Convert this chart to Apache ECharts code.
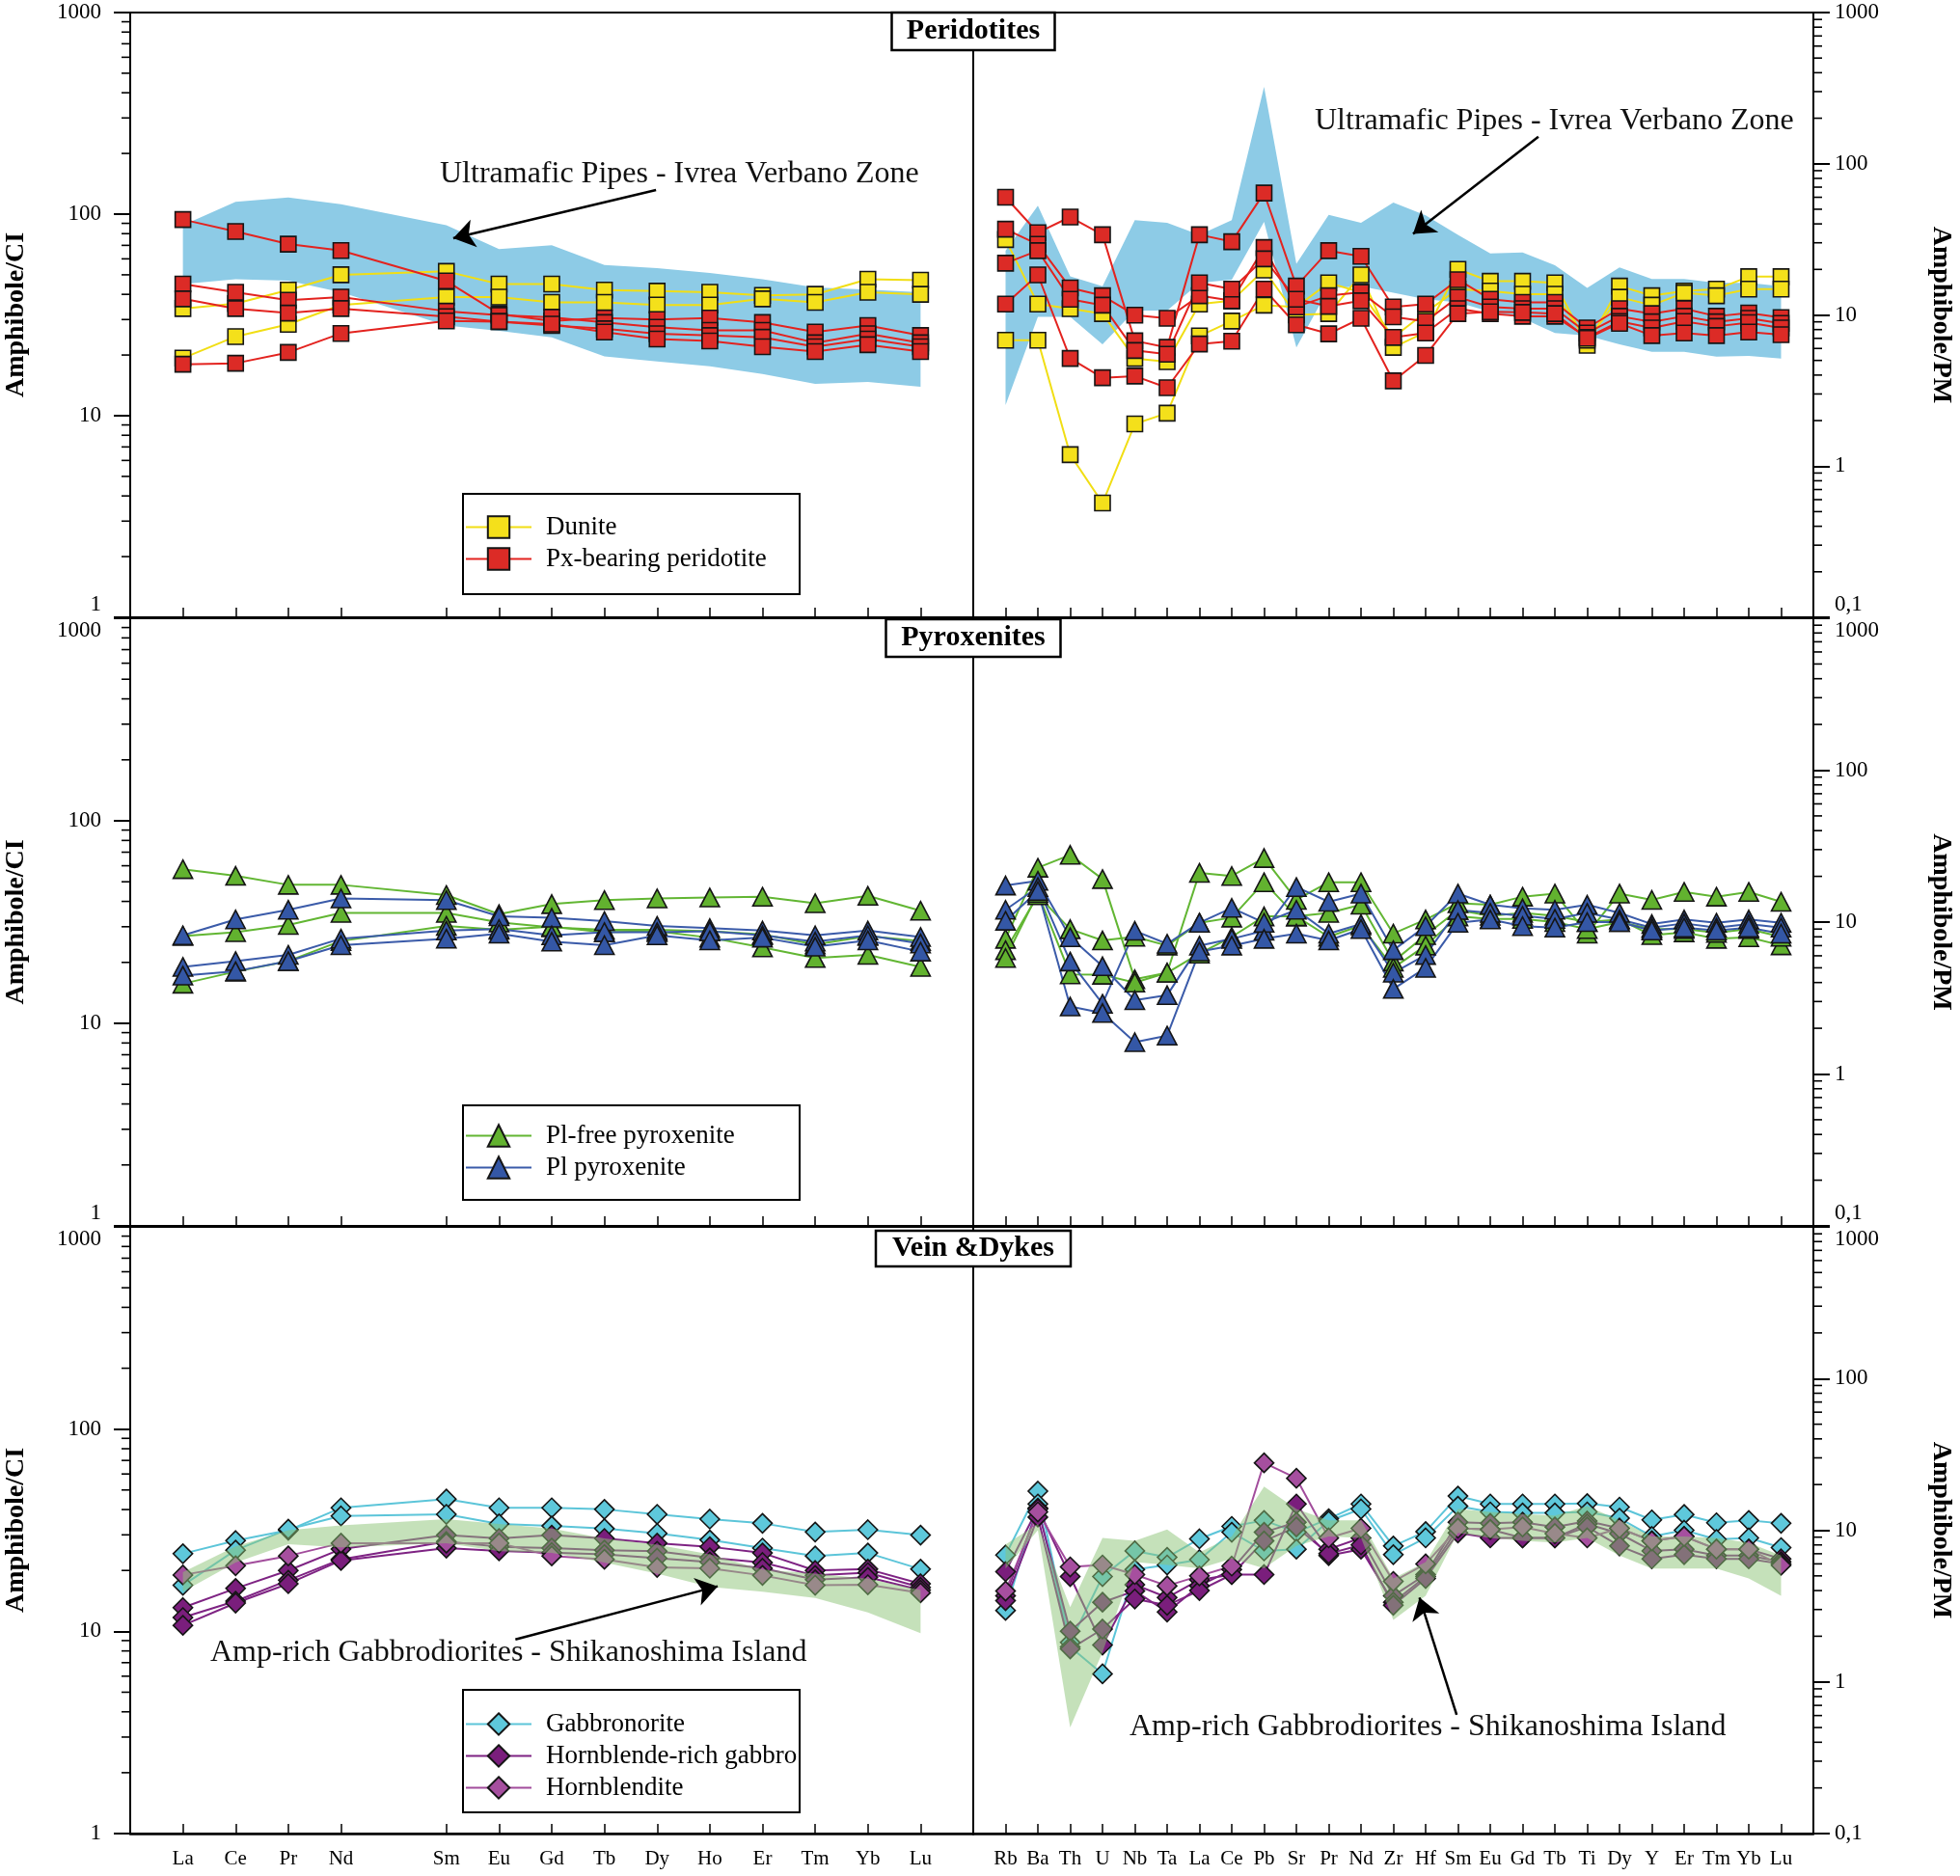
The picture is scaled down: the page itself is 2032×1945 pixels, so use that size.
<!DOCTYPE html>
<html><head><meta charset="utf-8">
<script src="https://cdn.jsdelivr.net/npm/echarts@6/dist/echarts.min.js"></script>
<style>html,body{margin:0;padding:0;background:#fff}#c{width:2032px;height:1945px}</style>
</head><body><div id="c"></div>
<script>
// ---------- categories & tick values ----------
const REE = ['La','Ce','Pr','Nd','Pm','Sm','Eu','Gd','Tb','Dy','Ho','Er','Tm','Yb','Lu'];
const SPIDER = ['Rb','Ba','Th','U','Nb','Ta','La','Ce','Pb','Sr','Pr','Nd','Zr','Hf','Sm','Eu','Gd','Tb','Ti','Dy','Y','Er','Tm','Yb','Lu'];
const CI_MINOR = [2,3,4,5,6,7,8,9,20,30,40,50,60,70,80,90,200,300,400,500,600,700,800,900];
const PM_MINOR = [0.2,0.3,0.4,0.5,0.6,0.7,0.8,0.9,2,3,4,5,6,7,8,9,20,30,40,50,60,70,80,90,200,300,400,500,600,700,800,900];

// ---------- Peridotites (chondrite-normalised REE) ----------
const DUN_REE_1 = [34, 36, 42, 50, null, 52, 45, 45, 42, 41.5, 41, 39.5, 40, 47.5, 47];
const DUN_REE_2 = [19.3, 24.7, 28.4, 35.4, null, 38.8, 38.8, 36.5, 36.5, 35.4, 35.4, 38, 36.5, 41, 40];
const PXP_REE_1 = [94, 82, 71, 66, null, 46.6, 32, 29.5, 30.5, 30, 30.5, 29, 26, 28, 25];
const PXP_REE_2 = [45, 41, 37.4, 38.8, null, 33, 31.5, 30.8, 29, 27.5, 26.5, 26.5, 23, 25.5, 23];
const PXP_REE_3 = [38, 34, 32.3, 34, null, 31, 29.3, 28, 27, 25.5, 25, 24.5, 22, 24, 22];
const PXP_REE_4 = [18, 18.2, 20.6, 25.6, null, 29.5, 29.3, 28.5, 26, 24, 23.5, 22, 20.8, 22.5, 20.8];
const UMP_REE_HI = [88, 115, 121, 112, null, 88, 67, 70, 56, 54, 51, 47.5, 43.3, 42.2, 41];
const UMP_REE_LO = [45, 47.5, 46.7, 41, null, 28, 26.4, 24.5, 19.7, 18.6, 17.6, 16.1, 14.4, 14.7, 13.9];
// ---------- Peridotites (primitive-mantle-normalised) ----------
const DUN_PM_1 = [31.5, 11.8, 11, 10.2, 5.15, 4.9, 11.8, 12.4, 19.8, 10, 10.2, 18.4, 6.1, 7.7, 20, 16.7, 16.7, 16.3, 6.3, 15.5, 13.4, 14.4, 14.8, 17.9, 17.9];
const DUN_PM_2 = [6.8, 6.8, 1.19, 0.57, 1.9, 2.24, 7.26, 9.1, 11.6, 11.3, 16.3, 14.1, 7.1, 10.4, 14.8, 14.4, 13.7, 13.7, 6.8, 13.1, 11.6, 14.0, 13.4, 14.8, 14.8];
const PXP_PM_1 = [60, 35, 44.4, 33.9, 6.74, 6.1, 33.9, 30.5, 64, 15.5, 26.6, 24.4, 11.3, 11.8, 17.1, 12.7, 12.1, 12.1, 8.2, 11, 10.2, 11, 9.8, 10.3, 9.6];
const PXP_PM_2 = [36.9, 29.3, 15.1, 13.4, 9.97, 9.5, 13.4, 12.4, 27.9, 11.3, 13.4, 14.1, 9.7, 9.05, 13.1, 11.3, 11, 11, 7.6, 9.8, 9, 9.8, 9, 9.5, 8.8];
const PXP_PM_3 = [22, 26.6, 12.7, 11.6, 5.82, 5.5, 16.3, 14.8, 23.5, 12.7, 11.4, 12.4, 7.1, 7.6, 11, 10.2, 9.8, 9.8, 7.1, 9.05, 8.2, 9.05, 8.4, 8.9, 8.2];
const PXP_PM_4 = [11.8, 18.4, 5.15, 3.84, 3.94, 3.3, 6.42, 6.7, 14.8, 8.6, 7.5, 9.5, 3.66, 5.4, 10.2, 10.5, 10.4, 10.2, 7.0, 8.8, 7.3, 7.6, 7.3, 7.7, 7.4];
const UMP_PM_HI = [26.6, 52.7, 18, 15.5, 42.3, 40.7, 33.9, 42.3, 323, 21.8, 45.9, 40.7, 55.4, 45.5, 33.9, 25.5, 25.9, 21.3, 15.1, 20.6, 17.3, 17.3, 16.3, 16.3, 15.5];
const UMP_PM_LO = [2.53, 9.7, 9.7, 6.4, 10.7, 10.7, 16.3, 17.1, 41.3, 6.1, 15, 15.5, 14, 12.7, 12.1, 10.5, 9.5, 7.6, 7.3, 6.4, 5.7, 5.7, 5.3, 5.35, 5.15];

// ---------- Pyroxenites ----------
const PLF_REE_1 = [57.7, 53.5, 48.3, 48.3, null, 43, 34.6, 38.8, 40.6, 41.4, 41.8, 42.2, 39.2, 42.6, 36];
const PLF_REE_2 = [27, 28.2, 30.6, 35.1, null, 35.1, 31.5, 29.8, 29, 29, 28.5, 27.5, 24.5, 27, 25.5];
const PLF_REE_3 = [15.7, 18, 20.3, 25.5, null, 30.3, 29, 30, 28.2, 28.5, 26.5, 23.7, 21, 21.8, 19];
const PLP_REE_1 = [27.2, 32.6, 36.4, 41.4, null, 40.6, 33.8, 33.2, 32, 30.3, 29.5, 28.7, 27.2, 28.7, 26.7];
const PLP_REE_2 = [19, 20.3, 21.8, 26.2, null, 28.7, 29.2, 27.2, 28.2, 28.2, 28.5, 27.2, 25.3, 27.2, 24.8];
const PLP_REE_3 = [17.2, 18.1, 20.3, 24.3, null, 26.2, 27.7, 25.3, 24.3, 27.2, 25.7, 26.5, 23.9, 25.7, 22.6];
const PLF_PM_1 = [7.76, 22.8, 27.7, 19.2, 4.2, 4.64, 21.1, 20.1, 26.4, 14, 18.3, 18.3, 8.4, 10.4, 13.3, 13, 14.7, 15.4, 8.4, 15.4, 14, 15.8, 14.7, 15.8, 13.6];
const PLF_PM_2 = [6.53, 15, 8.98, 7.57, 8.0, 7.0, 9.9, 10.7, 18.3, 10.9, 11.5, 13, 5.5, 8.2, 12, 11, 11.5, 11, 10, 10.4, 8.2, 8.56, 7.76, 7.95, 7.03];
const PLF_PM_3 = [5.8, 15.5, 4.53, 4.5, 4.0, 4.64, 6.2, 8, 10.9, 10.9, 8, 9.5, 5, 7, 10.9, 10.5, 10.5, 10, 9, 10, 9, 9, 8.5, 9, 8];
const PLP_PM_1 = [17.4, 18.7, 7.95, 5.12, 3.06, 3.3, 7.0, 7.76, 8.76, 17, 13.6, 15.4, 6.53, 9.4, 15.4, 13, 12.3, 12.05, 13, 11.5, 9.7, 10.4, 9.9, 10.4, 9.9];
const PLP_PM_2 = [12.05, 17, 5.5, 2.9, 8.76, 7.2, 9.9, 12.4, 9.9, 12.05, 8.4, 9.7, 4.64, 6.07, 12, 11.5, 11, 10.5, 11.5, 10.4, 9.2, 9.8, 9.2, 9.7, 9.2];
const PLP_PM_3 = [10.2, 16, 2.78, 2.52, 1.62, 1.79, 6.4, 7.0, 7.76, 8.4, 7.57, 9.0, 3.63, 5.0, 9.9, 10.4, 9.4, 9.2, 10, 10, 8.8, 9.2, 8.8, 9.2, 8.4];

// ---------- Veins & Dykes ----------
const GBN_REE_1 = [24.2, 28.1, 31.6, 40.8, null, 45.1, 40.8, 40.8, 40.1, 37.9, 35.9, 34.2, 31, 31.8, 29.9];
const GBN_REE_2 = [16.9, 25.2, 32, 37.2, null, 37.9, 34, 33.2, 32.2, 30.5, 28.3, 25.8, 23.6, 24.4, 20.3];
const HBG_REE_1 = [13.1, 16.3, 20, 25.5, null, 29.9, 28.8, 29.9, 28.8, 27.3, 26.2, 24.4, 20, 20.3, 17.2];
const HBG_REE_2 = [11.7, 14.1, 17.9, 22.7, null, 27.8, 26.2, 25.8, 25.2, 24.9, 23.1, 21.9, 18.9, 19.5, 16.5];
const HBG_REE_3 = [10.7, 13.8, 17.2, 22.4, null, 25.8, 25, 24.5, 24, 23, 22, 20.5, 18, 18.5, 16];
const HBL_REE = [19.0, 21.1, 23.6, 27.3, null, 27.3, 27.3, 23.6, 22.7, 20.7, 20.5, 18.9, 16.9, 17.0, 15.5];
const SHK_REE_HI = [19.6, 26.3, 31.6, 33.4, null, 35.9, 34, 32.2, 28.8, 26.8, 24, 20.2, 19.3, 18.2, 16];
const SHK_REE_LO = [15.7, 21.9, 27, 26, null, 27.3, 24.9, 24.4, 21.9, 19.3, 16.6, 15.7, 14.6, 12.4, 9.8];
const GBN_PM_1 = [6.86, 18.1, 1.82, 4.95, 7.31, 6.63, 8.77, 10.6, 11.6, 9.7, 11.9, 14.9, 7.87, 9.8, 16.8, 14.9, 14.9, 14.9, 15, 14.2, 11.7, 12.7, 11.2, 11.6, 11.1];
const GBN_PM_2 = [2.96, 14.9, 1.7, 1.13, 5.5, 5.9, 6.4, 9.7, 7.3, 7.5, 11.5, 13.8, 6.9, 8.9, 14.4, 13.2, 13, 13, 13.2, 12, 9.1, 10, 8.7, 8.9, 7.68];
const HBG_PM_1 = [5.33, 14, 4.95, 1.75, 4.38, 3.6, 4.71, 5.1, 5.1, 14.9, 7.5, 8.9, 3.7, 5.1, 11.3, 11.1, 11.3, 10.5, 11.5, 10.3, 8.5, 9.1, 7.5, 7.5, 6.47];
const HBG_PM_2 = [3.7, 13.8, 2.16, 3.35, 3.98, 2.89, 4.3, 5.5, 9.7, 11.3, 6.8, 7.5, 3.35, 4.95, 10.3, 10.1, 8.9, 8.9, 11, 9.5, 7.3, 7.5, 6.8, 6.8, 6.2];
const HBG_PM_3 = [3.43, 12.2, 1.65, 2.23, 3.52, 3.2, 4.0, 5.1, 8.5, 10.5, 7.0, 8.0, 3.2, 4.8, 9.6, 8.9, 8.9, 8.9, 10.5, 7.87, 6.47, 6.9, 6.47, 6.47, 6.0];
const HBL_PM = [3.97, 13.2, 5.73, 5.9, 5.1, 4.3, 5.0, 5.8, 27.8, 22, 8.9, 10.3, 4.6, 6.0, 10.3, 10.1, 10.5, 9.5, 8.9, 10.3, 8.5, 9.1, 7.5, 7.5, 5.87];
const SHK_PM_HI = [8.06, 11, 3.11, 8.9, 8.5, 10.1, 7.14, 9.1, 19.4, 13.8, 11.6, 11.6, 4.8, 6.17, 13.8, 13.2, 12.8, 12.5, 14.4, 11.6, 9.1, 9.1, 8.9, 8.26, 6.8];
const SHK_PM_LO = [5.59, 10, 0.5, 1.57, 6.17, 5.9, 5.6, 6.5, 5.6, 7.87, 9.1, 8.9, 2.56, 3.69, 9.6, 8.9, 8.5, 8.3, 8.9, 6.8, 5.59, 5.59, 5.59, 4.8, 3.69];

// ---------- styles / layout ----------
const FONT = '"Liberation Serif", "Times New Roman", serif';
const ST = {
  dun: {name: 'Dunite', symbol: 'rect', size: 16, fill: '#F4E01B', line: '#F1DE14'},
  pxp: {name: 'Px-bearing peridotite', symbol: 'rect', size: 16, fill: '#DC2B26', line: '#E3231F'},
  plf: {name: 'Pl-free pyroxenite', symbol: 'triangle', size: [20, 19], fill: '#62B22F', line: '#62B633'},
  plp: {name: 'Pl pyroxenite', symbol: 'triangle', size: [20, 19], fill: '#3457A6', line: '#3B5BA9'},
  gbn: {name: 'Gabbronorite', symbol: 'diamond', size: 20, fill: '#5EC8DB', line: '#5CC5D9'},
  hbg: {name: 'Hornblende-rich gabbro', symbol: 'diamond', size: 20, fill: '#7A1E7C', line: '#7E2383'},
  hbl: {name: 'Hornblendite', symbol: 'diamond', size: 20, fill: '#A64F9F', line: '#A24D9C'}
};
const GX = {L: [135, 1009], R: [1009, 1880]};
const PY = [[13, 640], [641, 1271], [1272, 1901]];

const grids = [], xAxes = [], yAxes = [], series = [];

function yFmt(side, p) {
  const minV = side === 'L' ? 1 : 0.1;
  return function (v) {
    const s = v < 0.5 ? '0,1' : String(Math.round(v));
    if (p < 2 && Math.abs(Math.log10(v) - Math.log10(minV)) < 1e-6) return '{up|' + s + '}';
    if (p > 0 && Math.abs(Math.log10(v) - 3) < 1e-6) return '{dn|' + s + '}';
    return '{n|' + s + '}';
  };
}
const labStyle = {fontFamily: FONT, fontSize: 23, color: '#000'};

function minorTicks(g, vals, side) {
  const edge = side === 'L' ? -1 : 25, dir = side === 'L' ? -1 : 1;
  return {type: 'custom', xAxisIndex: 2 * g + 1, yAxisIndex: g, silent: true, clip: false, z: 6, animation: false,
    data: vals.map(v => [edge, v]), encode: {x: 0, y: 1},
    renderItem: (params, api) => {
      const pt = api.coord([api.value(0), api.value(1)]);
      return {type: 'line', shape: {x1: pt[0], y1: pt[1], x2: pt[0] + dir * 9, y2: pt[1]}, style: {stroke: '#000', lineWidth: 1.6}};
    }};
}

for (let p = 0; p < 3; p++) {
  ['L', 'R'].forEach(side => {
    const g = grids.length;
    grids.push({left: GX[side][0], top: PY[p][0], width: GX[side][1] - GX[side][0], height: PY[p][1] - PY[p][0],
      show: true, borderColor: '#000', borderWidth: 2, backgroundColor: 'transparent'});
    const cats = side === 'L' ? [' '].concat(REE, ['  ']) : [' '].concat(SPIDER, ['  ']);
    xAxes.push({type: 'category', gridIndex: g, position: 'bottom', boundaryGap: false, data: cats,
      axisLine: {show: true, onZero: false, lineStyle: {color: '#000', width: 2.5}},
      axisTick: {show: true, inside: true, length: 10, interval: (i, v) => v.trim() !== '' && v !== 'Pm', lineStyle: {color: '#000', width: 1.5}},
      axisLabel: {show: p === 2, interval: 0, formatter: v => (v === 'Pm' ? '' : v), fontFamily: FONT, fontSize: 21, color: '#000', margin: 16},
      splitLine: {show: false}, z: 6});
    xAxes.push({type: 'value', gridIndex: g, position: 'top', min: -1, max: side === 'L' ? 15 : 25, show: false,
      axisLine: {onZero: false}});
    yAxes.push({type: 'log', logBase: 10, gridIndex: g, min: side === 'L' ? 1 : 0.1, max: 1000, interval: 1,
      position: side === 'L' ? 'left' : 'right',
      axisLine: {show: true, onZero: false, lineStyle: {color: '#000', width: 2}},
      axisTick: {show: true, inside: false, length: 17, lineStyle: {color: '#000', width: 2}},
      minorTick: {show: false},
      axisLabel: {show: true, margin: side === 'L' ? 30 : 22, formatter: yFmt(side, p),
        rich: {n: labStyle, up: Object.assign({padding: [0, 0, 26, 0]}, labStyle), dn: Object.assign({padding: [26, 0, 0, 0]}, labStyle)}},
      splitLine: {show: false},
      name: side === 'L' ? 'Amphibole/CI' : 'Amphibole/PM', nameLocation: 'middle',
      nameGap: side === 'L' ? 104 : 118, nameRotate: side === 'L' ? 90 : -90,
      nameTextStyle: {fontFamily: FONT, fontSize: 28, fontWeight: 'bold', color: '#000'}, z: 6});
    series.push(minorTicks(g, side === 'L' ? CI_MINOR : PM_MINOR, side));
  });
}

function line(st, g, arr, extra) {
  const data = [];
  arr.forEach((v, i) => { if (v != null) data.push([i, v]); });
  return Object.assign({type: 'line', name: st.name, xAxisIndex: 2 * g + 1, yAxisIndex: g, data,
    symbol: st.symbol, symbolSize: st.size, showSymbol: true, z: 3, animation: false,
    itemStyle: {color: st.fill, borderColor: '#151515', borderWidth: 1.6},
    lineStyle: {color: st.line, width: 2},
    emphasis: {disabled: true}}, extra || {});
}

function band(g, hi, lo, color, z) {
  const idx = [];
  hi.forEach((v, i) => { if (v != null) idx.push(i); });
  return {type: 'custom', xAxisIndex: 2 * g + 1, yAxisIndex: g, silent: true, z, animation: false,
    data: idx.map(i => [i, hi[i], lo[i]]), encode: {x: 0, y: [1, 2]},
    renderItem: (params, api) => {
      if (params.dataIndex !== 0) return null;
      const up = idx.map(i => api.coord([i, hi[i]]));
      const dn = idx.map(i => api.coord([i, lo[i]])).reverse();
      return {type: 'polygon', shape: {points: up.concat(dn)}, style: {fill: color}};
    }};
}

function arrow(a, b) {
  return {silent: true, symbol: ['none', 'arrow'], symbolSize: 22, animation: false,
    lineStyle: {color: '#000', width: 2.5, type: 'solid'}, label: {show: false},
    data: [[{coord: a}, {coord: b}]]};
}

const BLUE_BAND = '#8DCBE6';
const GREEN_BAND = 'rgba(140,196,118,0.5)';

// panel 1
series.push(band(0, UMP_REE_HI, UMP_REE_LO, BLUE_BAND, 1));
series.push(band(1, UMP_PM_HI, UMP_PM_LO, BLUE_BAND, 1));
[DUN_REE_1, DUN_REE_2].forEach(a => series.push(line(ST.dun, 0, a)));
[PXP_REE_1, PXP_REE_2, PXP_REE_3, PXP_REE_4].forEach((a, k) => series.push(line(ST.pxp, 0, a,
  k === 0 ? {markLine: arrow([8.98, 131.8], [5.13, 75.9])} : null)));
[DUN_PM_1, DUN_PM_2].forEach(a => series.push(line(ST.dun, 1, a)));
[PXP_PM_1, PXP_PM_2, PXP_PM_3, PXP_PM_4].forEach((a, k) => series.push(line(ST.pxp, 1, a,
  k === 0 ? {markLine: arrow([16.49, 151], [12.61, 34.3])} : null)));
// panel 2
[PLF_REE_1, PLF_REE_2, PLF_REE_3].forEach(a => series.push(line(ST.plf, 2, a)));
[PLP_REE_1, PLP_REE_2, PLP_REE_3].forEach(a => series.push(line(ST.plp, 2, a)));
[PLF_PM_1, PLF_PM_2, PLF_PM_3].forEach(a => series.push(line(ST.plf, 3, a)));
[PLP_PM_1, PLP_PM_2, PLP_PM_3].forEach(a => series.push(line(ST.plp, 3, a)));
// panel 3
[GBN_REE_1, GBN_REE_2].forEach((a, k) => series.push(line(ST.gbn, 4, a,
  k === 0 ? {markLine: arrow([6.31, 9.12], [10.15, 16.7])} : null)));
[HBG_REE_1, HBG_REE_2, HBG_REE_3].forEach(a => series.push(line(ST.hbg, 4, a)));
series.push(line(ST.hbl, 4, HBL_REE));
[GBN_PM_1, GBN_PM_2].forEach((a, k) => series.push(line(ST.gbn, 5, a,
  k === 0 ? {markLine: arrow([13.96, 0.607], [12.81, 3.6])} : null)));
[HBG_PM_1, HBG_PM_2, HBG_PM_3].forEach(a => series.push(line(ST.hbg, 5, a)));
series.push(line(ST.hbl, 5, HBL_PM));
series.push(band(4, SHK_REE_HI, SHK_REE_LO, GREEN_BAND, 4));
series.push(band(5, SHK_PM_HI, SHK_PM_LO, GREEN_BAND, 4));

function legend(names, top) {
  return {data: names, left: 482, top, orient: 'vertical', padding: 0, itemWidth: 68, itemHeight: 28, itemGap: 6,
    selectedMode: false, z: 8,
    textStyle: {fontFamily: FONT, fontSize: 27, color: '#000', padding: [0, 0, 0, 10]}};
}

function boxTitle(text, cx, y, w, h) {
  return {type: 'group', z: 20, children: [
    {type: 'rect', shape: {x: cx - w / 2, y, width: w, height: h}, style: {fill: '#fff', stroke: '#000', lineWidth: 2.5}},
    {type: 'text', x: cx, y: y + h / 2, style: {text, font: 'bold 30px ' + FONT, fill: '#000', align: 'center', verticalAlign: 'middle'}}
  ]};
}
function note(text, x, cy) {
  return {type: 'text', x, y: cy, z: 20, style: {text, font: '32px ' + FONT, fill: '#111', align: 'left', verticalAlign: 'middle'}};
}
function legendBox(x, y, w, h) {
  return {type: 'rect', z: 2, shape: {x, y, width: w, height: h}, style: {fill: '#fff', stroke: '#000', lineWidth: 2}};
}

const chart = echarts.init(document.getElementById('c'), null, {renderer: 'canvas', width: 2032, height: 1945});
chart.setOption({
  animation: false,
  backgroundColor: '#fff',
  grid: grids, xAxis: xAxes, yAxis: yAxes, series,
  legend: [
    legend(['Dunite', 'Px-bearing peridotite'], 533),
    legend(['Pl-free pyroxenite', 'Pl pyroxenite'], 1164),
    legend(['Gabbronorite', 'Hornblende-rich gabbro', 'Hornblendite'], 1774)
  ],
  graphic: [
    legendBox(480, 512, 349, 104), legendBox(480, 1146, 349, 98), legendBox(480, 1752, 349, 127),
    boxTitle('Peridotites', 1009, 13, 169, 39),
    boxTitle('Pyroxenites', 1009, 642, 181, 39),
    boxTitle('Vein &Dykes', 1009, 1276, 202, 37),
    note('Ultramafic Pipes - Ivrea Verbano Zone', 456, 181),
    note('Ultramafic Pipes - Ivrea Verbano Zone', 1363, 126),
    note('Amp-rich Gabbrodiorites - Shikanoshima Island', 218, 1714),
    note('Amp-rich Gabbrodiorites - Shikanoshima Island', 1171, 1791)
  ]
});
</script></body></html>
